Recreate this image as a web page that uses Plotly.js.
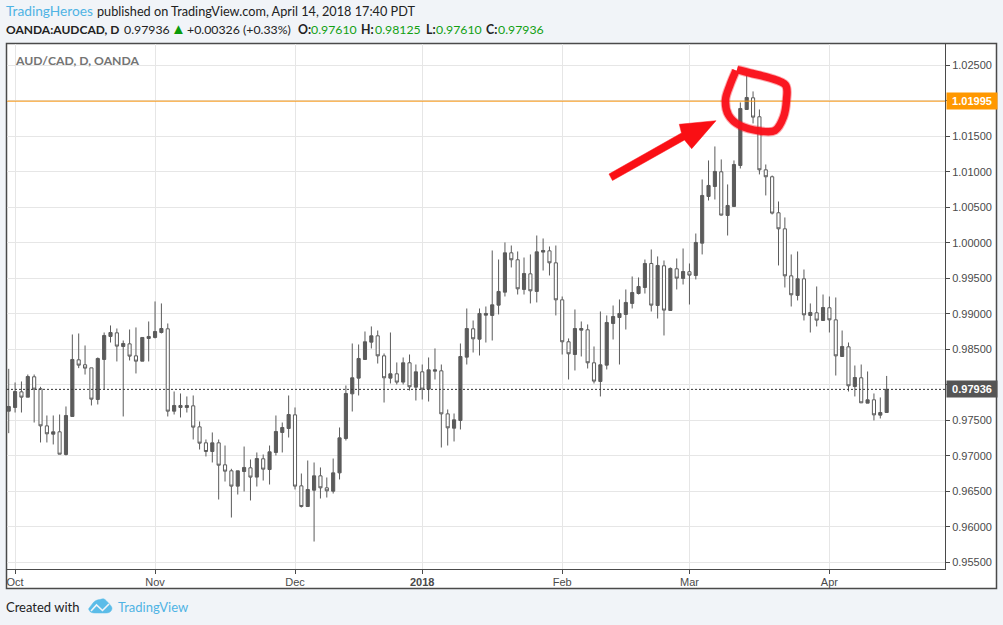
<!DOCTYPE html>
<html><head><meta charset="utf-8">
<script src="https://cdn.plot.ly/plotly-3.0.1.min.js"></script>
<style>html,body{margin:0;padding:0;background:#f1f4f8}#c{width:1003px;height:625px}</style>
</head><body><div id="c"></div>
<script>
const openPrice=[
.97629,.97681,.97901,.97826,.98113,.97944,.97422,.97305,.97338,.97019,
.97554,.98352,.98282,.98239,.97793,.98357,.98681,.98732,.9854,.98577,
.98408,.98333,.98653,.98667,.98737,.98789,.97629,.97681,.97681,.97704,
.97408,.97183,.97061,.97183,.96873,.96789,.96573,.96779,.96831,.967,
.96958,.96807,.97047,.97329,.97385,.97577,.96577,.96286,.96516,.96718,
.96549,.96502,.9676,.97244,.97873,.98094,.98357,.98601,.9869,.98408,
.98094,.98155,.98038,.9831,.97967,.98183,.97939,.98192,.98197,.97591,
.97389,.97498,.9839,.98789,.98643,.98981,.98977,.99122,.99305,.99859,
.99761,.99343,.99563,.99315,.99869,.99887,.99718,.99197,.98606,.98427,
.9877,.98775,.9831,.98047,.98277,.98864,.98948,.98991,.99146,.99286,
.99371,.99709,.99117,.99676,.99047,.99634,.99498,.99592,.9954,.99995,
1.00653,1.00793,1.01,1.00385,1.00512,1.01089,1.01878,1.02042,1.01775,1.01028,
1.0093,1.00423,1.00197,.99535,.99258,.99493,.98977,.99014,.98906,.99085,
.98915,.98399,.98535,.97976,.98099,.97742,.97789,.97573,.9761];
const closePrice=[
.97695,.97906,.97826,.98117,.97939,.97422,.9731,.97338,.97023,.97568,
.98357,.98277,.98235,.97798,.98371,.98695,.98737,.98545,.98582,.98404,
.98333,.98667,.98681,.98751,.98793,.97629,.97709,.97709,.97709,.97404,
.97178,.97061,.97183,.96868,.96784,.96573,.96789,.96836,.967,.96962,
.96812,.97056,.97343,.97399,.97582,.96573,.96286,.96526,.96718,.96549,
.96507,.9676,.97253,.97878,.98099,.98371,.98606,.9869,.98408,.98099,
.98155,.98038,.9831,.97972,.98183,.97939,.98211,.98211,.97591,.97394,
.97507,.98399,.98793,.98648,.99005,.99005,.99127,.99315,.99859,.99761,
.99352,.99568,.99324,.99873,.99892,.99718,.99197,.98606,.98437,.98793,
.98793,.9831,.98052,.98282,.98878,.98962,.99005,.9916,.993,.99385,
.99709,.99122,.99681,.99052,.99639,.99502,.99596,.99545,1.00005,1.00667,
1.00808,1.01005,1.0039,1.00526,1.01103,1.01892,1.02047,1.0177,1.01028,1.0093,
1.00418,1.00197,.99535,.99268,.99493,.98986,.99019,.98911,.99089,.98915,
.98408,.9854,.97986,.98103,.97746,.97789,.97577,.9761,.97936];
const highPrice=[
.98225,.98033,.98047,.98145,.98145,.97972,.97568,.97568,.97582,.97695,
.98709,.98723,.98554,.98239,.98385,.98737,.98836,.98793,.98624,.98779,
.98808,.98667,.98892,.99174,.99146,.98864,.97906,.97878,.97836,.9785,
.97484,.9723,.97329,.9723,.97145,.96817,.96789,.97131,.96948,.97047,
.97019,.97145,.97568,.97469,.9785,.97681,.96751,.96934,.96906,.96836,
.96695,.96962,.97399,.97991,.98582,.98568,.98751,.98822,.98765,.98441,
.98737,.98315,.98385,.98427,.98286,.98286,.98385,.98512,.98286,.97653,
.97596,.98582,.99075,.98906,.99075,.99103,.99892,.99765,1.00005,.99962,
.99878,.99793,.99836,1.00103,1.00061,.99948,.99962,.99244,.98653,.99061,
.98892,.9885,.9854,.99033,.98977,.99117,.99202,.99343,.99526,.99512,
.99765,.99906,.99808,.99751,.99653,.99779,.9992,.99709,1.00131,1.00892,
1.0116,1.01357,1.01174,1.00822,1.0116,1.01977,1.02357,1.02132,1.01878,1.01103,
1.00948,1.00582,1.00357,.99836,.99878,.99624,.99146,.99385,.99272,.99244,
.9923,.98765,.98596,.98272,.98286,.98188,.97878,.97822,.98125];
const lowPrice=[
.97319,.9761,.9761,.97826,.97469,.97188,.97188,.9716,.97023,.97005,
.97554,.98235,.98145,.97709,.97723,.9793,.98596,.98329,.97554,.98343,
.9816,.98333,.98329,.98653,.98723,.97554,.97582,.9754,.9761,.9723,
.97089,.96991,.96906,.96385,.96638,.96131,.96455,.96498,.96371,.96568,
.96652,.96596,.97005,.97047,.97258,.96526,.96272,.96286,.95793,.96399,
.96413,.96469,.96667,.97216,.97624,.9785,.98357,.98512,.983,.97751,
.98019,.98005,.98005,.9792,.97779,.97793,.97765,.98075,.97117,.97145,
.97202,.97371,.98286,.98455,.98413,.98596,.98624,.98991,.99244,.99653,
.99272,.99272,.99146,.9916,.9961,.9954,.98977,.98427,.98075,.98202,
.98399,.9823,.98019,.97836,.98216,.98638,.98286,.98779,.99075,.99272,
.99286,.99033,.98934,.98695,.99047,.99343,.99413,.99131,.99484,.99836,
1.00596,1.0061,1.00385,1.00103,1.00512,1.01047,1.01878,1.01681,1.00963,1.00667,
1.00399,.99681,.99371,.99103,.99188,.98906,.98737,.98822,.98906,.98737,
.98131,.98399,.97906,.97836,.97746,.97742,.97498,.97526,.9761];
const monthTickIndex=[1,23,45,65,87,107,129];
const monthTickText=['Oct','Nov','Dec','<b>2018</b>','Feb','Mar','Apr'];
const priceTicks=[0.955,0.96,0.965,0.97,0.975,0.98,0.985,0.99,0.995,1,1.005,1.01,1.015,1.02,1.025];
const priceTickText=['0.95500','0.96000','0.96500','0.97000','0.97500','','0.98500','0.99000','0.99500','1.00000','1.00500','1.01000','1.01500','','1.02500'];
const lastPrice=0.97936, markedPrice=1.01995;
const barIndex=openPrice.map((_,i)=>i);

const W=1003,H=625,L=7,R=945,T=44,B=569;
const fx=p=>(p-L)/(R-L), fy=p=>(B-p)/(B-T);
const UI='Lato, "Open Sans", sans-serif', AX='"Liberation Sans", Arial, sans-serif';
const DARK='#5b5b5b', FRAME='#4a4a4a', GRID='#e6e6e6', BLUE='#4fb3e4', RED='#fa0f14', GREEN='#12a012';

function polyPath(pts){return 'M '+pts.map(p=>fx(p[0]).toFixed(5)+' '+fy(p[1]).toFixed(5)).join(' L ')+' Z';}
function linePath(pts){return 'M '+pts.map(p=>fx(p[0]).toFixed(5)+' '+fy(p[1]).toFixed(5)).join(' L ');}
function smoothPath(pts){
  let s='M '+fx(pts[0][0])+' '+fy(pts[0][1]);
  for(let i=0;i<pts.length-1;i++){
    const a=pts[Math.max(i-1,0)],b=pts[i],c=pts[i+1],d=pts[Math.min(i+2,pts.length-1)];
    const c1=[b[0]+(c[0]-a[0])/6,b[1]+(c[1]-a[1])/6],c2=[c[0]-(d[0]-b[0])/6,c[1]-(d[1]-b[1])/6];
    s+=' C '+fx(c1[0])+' '+fy(c1[1])+' '+fx(c2[0])+' '+fy(c2[1])+' '+fx(c[0])+' '+fy(c[1]);
  }
  return s;
}
function rectShape(x0,y0,x1,y1,fill,lw,layer){return {type:'rect',xref:'paper',yref:'paper',x0:fx(x0),x1:fx(x1),y0:fy(y0),y1:fy(y1),fillcolor:fill,line:{color:FRAME,width:lw},layer:layer||'below'};}
function text(px,py,t,o){o=o||{};return {xref:'paper',yref:'paper',x:fx(px-2),y:fy(py),text:t,showarrow:false,xanchor:o.xa||'left',yanchor:'middle',align:'left',font:{family:o.fam||UI,size:o.size||13,color:o.color||'#222'}};}

const circle=[[736,70.5],[730,85],[725.5,100],[728.5,115],[740,125.5],[760,131],[775,130.5],[783.5,117],[786.5,100],[785.5,85],[770,78],[750,73],[737,69.5]];
const arrow=[[609,174],[612.5,180.5],[684.5,140],[691.7,148.7],[716,120.7],[679.3,124.3],[681.5,133]];
const logo=[[88.5,609],[93,603],[96,600.5],[100,599.5],[104,599],[108,602.5],[112,608],[109,612.5],[100,613],[91.5,612.5],[88.5,609]];
const logoLine=[[91,611],[96.5,605],[102.5,610.5],[109,604]];

const layout={
  width:W,height:H,margin:{l:L,r:W-R,t:T,b:H-B,pad:0},
  paper_bgcolor:'#f1f4f8',plot_bgcolor:'#fff',showlegend:false,hovermode:false,dragmode:false,
  xaxis:{type:'linear',range:[-0.27,147.17],tickmode:'array',tickvals:monthTickIndex,ticktext:monthTickText,
    ticks:'outside',ticklen:4,tickcolor:FRAME,tickwidth:1,showgrid:true,gridcolor:GRID,gridwidth:1,zeroline:false,ticklabelstandoff:-1,
    showline:true,linecolor:FRAME,linewidth:1,rangeslider:{visible:false},tickfont:{family:AX,size:11,color:'#4a4a4a'},automargin:false},
  yaxis:{side:'right',range:[0.95406,1.028],tickmode:'array',tickvals:priceTicks,ticktext:priceTickText,
    ticks:'outside',ticklen:4,tickcolor:FRAME,tickwidth:1,showgrid:true,gridcolor:GRID,gridwidth:1,zeroline:false,
    showline:true,linecolor:FRAME,linewidth:1,tickfont:{family:AX,size:11,color:'#4a4a4a'},automargin:false},
  shapes:[
    rectShape(6.5,43.5,996.5,588.5,'#fff',1.5,'below'),
    {type:'line',xref:'paper',yref:'y',x0:0,x1:1,y0:lastPrice,y1:lastPrice,line:{color:'#333',width:1,dash:'2px,2px'},layer:'above'},
    {type:'line',xref:'paper',yref:'y',x0:0,x1:1,y0:markedPrice,y1:markedPrice,line:{color:'#f79510',width:1},layer:'above'},
    {type:'path',xref:'paper',yref:'paper',path:polyPath(arrow),fillcolor:RED,line:{color:RED,width:0.5},layer:'above'},
    {type:'path',xref:'paper',yref:'paper',path:smoothPath(circle),fillcolor:'rgba(0,0,0,0)',line:{color:'rgba(250,15,25,0.35)',width:9.5},layer:'above'},
    {type:'path',xref:'paper',yref:'paper',path:smoothPath(circle),fillcolor:'rgba(0,0,0,0)',line:{color:'rgba(250,15,25,0.95)',width:7.5},layer:'above'},
    {type:'path',xref:'paper',yref:'paper',path:smoothPath(logo),fillcolor:'#5bbce8',line:{color:'#5bbce8',width:0.5},layer:'above'},
    {type:'path',xref:'paper',yref:'paper',path:linePath(logoLine),fillcolor:'rgba(0,0,0,0)',line:{color:'#f1f4f8',width:1.6},layer:'above'}
  ],
  annotations:[
    text(6,11,'TradingHeroes',{size:13.7,color:BLUE}),
    text(97,11,'published on TradingView.com, April 14, 2018 17:40 PDT',{size:12.7}),
    text(6,29,'<b>OANDA:AUDCAD, D</b>',{size:12}),
    text(124,29,'0.97936',{size:12.3}),
    text(171,28,'▲',{size:15,color:'#0a9b0a'}),
    text(187,29,'+0.00326 (+0.33%)',{size:12.3}),
    text(297.5,29,'<b>O:</b>',{size:12.3}),
    text(311,29,'0.97610',{size:12.3,color:GREEN}),
    text(361,29,'<b>H:</b>',{size:12.3}),
    text(375,29,'0.98125',{size:12.3,color:GREEN}),
    text(426,29,'<b>L:</b>',{size:12.3}),
    text(436,29,'0.97610',{size:12.3,color:GREEN}),
    text(486,29,'<b>C:</b>',{size:12.3}),
    text(498,29,'0.97936',{size:12.3,color:GREEN}),
    text(15,60.5,'<b>AUD/CAD, D, OANDA</b>',{color:'#747474',size:12.2}),
    text(6,607,'Created with',{size:13}),
    text(118,607,'TradingView',{size:13,color:BLUE}),
    {xref:'paper',yref:'y',x:fx(945.5),y:markedPrice,text:'<b>1.01995</b>',showarrow:false,xanchor:'left',yanchor:'middle',width:50,height:16,bgcolor:'#ff9800',borderpad:0,align:'center',font:{family:AX,size:11,color:'#fff'}},
    {xref:'paper',yref:'y',x:fx(945.5),y:lastPrice,text:'<b>0.97936</b>',showarrow:false,xanchor:'left',yanchor:'middle',width:50,height:16,bgcolor:'#555',borderpad:0,align:'center',font:{family:AX,size:11,color:'#fff'}}
  ]
};
const trace={type:'candlestick',x:barIndex,open:openPrice,high:highPrice,low:lowPrice,close:closePrice,
  whiskerwidth:0,hoverinfo:'skip',
  increasing:{line:{color:DARK,width:1},fillcolor:DARK},
  decreasing:{line:{color:DARK,width:1},fillcolor:'#fff'}};
Plotly.newPlot('c',[trace],layout,{displayModeBar:false,staticPlot:true});
</script></body></html>
